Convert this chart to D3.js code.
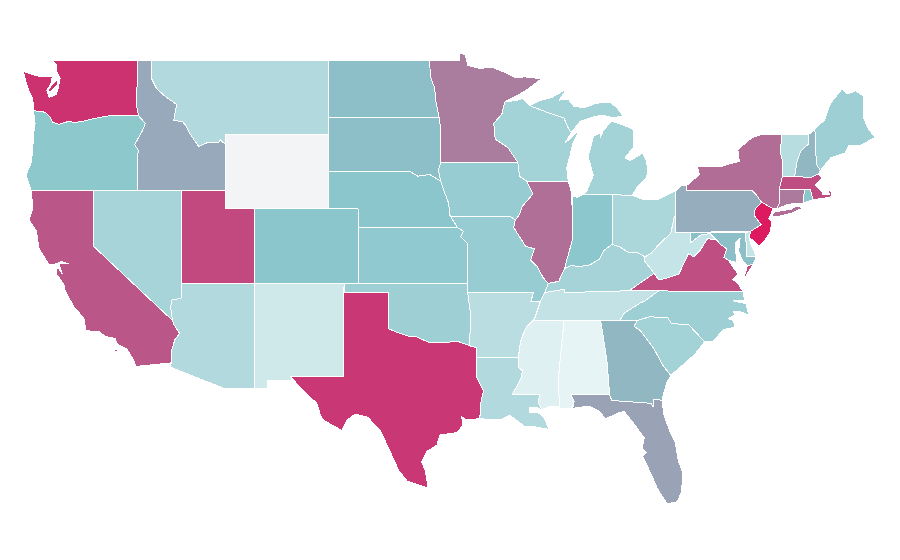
<!DOCTYPE html>
<html>
<head>
<meta charset="utf-8">
<script src="https://cdnjs.cloudflare.com/ajax/libs/d3/7.8.5/d3.min.js"></script>
<style>
  html, body { margin: 0; background: #fff; }
  svg { display: block; }
  path { shape-rendering: crispEdges; stroke: #fff; stroke-width: 1px; stroke-linejoin: round; }
</style>
</head>
<body>
<div id="holder"></div>
<script>
const w = 900;
const h = 560;

const stateNames = ["WA","OR","CA","NV","ID","MT","WY","UT","AZ","NM","CO","ND","SD","NE","KS","OK","TX",
  "MN","IA","MO","AR","LA","WI","IL","MI","IN","OH","KY","TN","MS","AL","GA","FL","SC","NC","VA","WV",
  "PA","NY","VT","NH","ME","MA","CT","RI","NJ","DE","MD"];
const stateValues = [93,48.5,82,36.5,58.4,30.5,null,86,30.5,16,50,52,52,50,47,40.7,91,
  71,44,44,27,30.5,37.7,75,37.7,49,33.8,36.8,22.5,9,5,54.3,60.4,37.7,40.7,84.5,21,
  57.2,75.7,27.5,54.3,40.7,85,72,49,100,21,52];

const colorDomain = [0, 50, 93, 100];
const colorRange = ["#f0f9fa", "#8ac6cc", "#cc3170", "#dd1a5f"];
const noDataColor = "#f3f4f6";

// state outlines, [lon, lat]
const stateShapes = {
  WA: [[[-122.76,49],[-117.03,49],[-117.04,46.42],[-116.92,46],[-118.98,46],[-119.6,45.92],[-120.6,45.73],[-121.2,45.65],[-121.7,45.7],[-122.3,45.55],[-122.75,45.65],[-122.9,45.9],[-123.2,46.15],[-123.5,46.25],[-124.05,46.27],[-124.1,46.9],[-124.35,47.3],[-124.6,47.9],[-124.73,48.38],[-123.7,48.13],[-122.78,48.12],[-122.85,47.8],[-123.15,47.35],[-123,47],[-122.5,47.15],[-122.35,47.6],[-122.25,48],[-122.5,48.4],[-122.5,48.75]],
      [[-122.37,47.97],[-122.44,47.66],[-122.94,47.25],[-123.05,47.4],[-122.82,47.66]]],
  OR: [[[-124.05,46.27],[-123.5,46.25],[-123.2,46.15],[-122.9,45.9],[-122.75,45.65],[-122.3,45.55],[-121.7,45.7],[-121.2,45.65],[-120.6,45.73],[-119.6,45.92],[-118.98,46],[-116.92,46],[-116.47,45.6],[-116.67,45.2],[-116.85,44.95],[-117.2,44.45],[-117.03,44.25],[-116.93,44.1],[-117.03,43.83],[-117.03,42],[-124.21,42],[-124.4,42.4],[-124.55,42.85],[-124.2,43.5],[-124.1,44.3],[-124.05,45],[-123.95,45.6]]],
  CA: [[[-124.2,42],[-120,42],[-120,39],[-114.63,35],[-114.55,34.8],[-114.15,34.3],[-114.45,34],[-114.7,33.4],[-114.72,32.72],[-117.12,32.53],[-117.25,32.85],[-117.7,33.45],[-118.4,33.75],[-118.5,34.03],[-119.2,34.15],[-119.6,34.4],[-120.5,34.45],[-120.65,35.15],[-121.3,35.7],[-121.9,36.6],[-122,36.95],[-122.5,37.5],[-122.5,37.8],[-122.35,37.78],[-122.1,37.5],[-122.3,37.95],[-122.28,38.05],[-121.7,38.05],[-122.2,38.18],[-122.5,38.05],[-123,38],[-123.7,38.9],[-123.85,39.8],[-124.35,40.4],[-124.1,41]],
      [[-119.9,34],[-119.55,34],[-119.55,33.93],[-119.9,33.93]],[[-118.55,33.42],[-118.35,33.42],[-118.35,33.33],[-118.55,33.33]]],
  NV: [[[-120,42],[-114.04,42],[-114.05,36.2],[-114.7,36.1],[-114.75,35.7],[-114.63,35],[-120,39]]],
  ID: [[[-117.03,49],[-116.05,49],[-116.05,48],[-115.7,47.45],[-115.05,47],[-114.35,46.62],[-114.55,45.75],[-113.95,45.7],[-113.75,45.5],[-113.45,45.05],[-113.2,44.75],[-112.85,44.35],[-112.3,44.55],[-111.5,44.55],[-111.4,44.72],[-111.05,44.47],[-111.05,42],[-117.03,42],[-117.03,43.83],[-116.93,44.1],[-117.03,44.25],[-117.2,44.45],[-116.85,44.95],[-116.67,45.2],[-116.47,45.6],[-116.92,46],[-117.04,46.42]]],
  MT: [[[-116.05,49],[-104.05,49],[-104.05,45],[-111.05,45],[-111.05,44.47],[-111.4,44.72],[-111.5,44.55],[-112.3,44.55],[-112.85,44.35],[-113.2,44.75],[-113.45,45.05],[-113.75,45.5],[-113.95,45.7],[-114.55,45.75],[-114.35,46.62],[-115.05,47],[-115.7,47.45],[-116.05,48]]],
  WY: [[[-111.05,45],[-104.05,45],[-104.05,41],[-111.05,41]]],
  UT: [[[-114.04,42],[-111.05,42],[-111.05,41],[-109.05,41],[-109.05,37],[-114.05,37]]],
  AZ: [[[-114.05,37],[-109.05,37],[-109.05,31.33],[-111.07,31.33],[-114.8,32.5],[-114.72,32.72],[-114.7,33.4],[-114.45,34],[-114.15,34.3],[-114.55,34.8],[-114.63,35],[-114.75,35.7],[-114.7,36.1],[-114.05,36.2]]],
  NM: [[[-109.05,37],[-103,37],[-103.05,32],[-106.62,32],[-106.5,31.78],[-108.2,31.78],[-108.2,31.33],[-109.05,31.33]]],
  CO: [[[-109.05,41],[-102.05,41],[-102.04,37],[-109.05,37]]],
  ND: [[[-104.05,49],[-97.23,49],[-97.1,48],[-96.85,47.5],[-96.8,46.9],[-96.56,45.94],[-104.05,45.94]]],
  SD: [[[-104.05,45.94],[-96.56,45.94],[-96.45,45.3],[-96.45,43.5],[-96.6,43.1],[-96.45,42.5],[-97.2,42.85],[-98,42.76],[-98.5,43],[-104.05,43]]],
  NE: [[[-104.05,43],[-98.5,43],[-98,42.76],[-97.2,42.85],[-96.45,42.5],[-96.2,41.9],[-95.9,41.3],[-95.85,40.7],[-95.31,40],[-102.05,40],[-102.05,41],[-104.05,41]]],
  KS: [[[-102.05,40],[-95.31,40],[-94.9,39.8],[-95.1,39.5],[-94.6,39.1],[-94.62,37],[-102.04,37]]],
  OK: [[[-103,37],[-94.62,37],[-94.43,35.4],[-94.48,33.64],[-95.3,33.88],[-96.5,33.8],[-97.2,33.8],[-98.1,34.13],[-98.6,34.15],[-99.2,34.3],[-100,34.56],[-100,36.5],[-103,36.5]]],
  TX: [[[-103.04,36.5],[-100,36.5],[-100,34.56],[-99.2,34.3],[-98.6,34.15],[-98.1,34.13],[-97.2,33.8],[-96.5,33.8],[-95.3,33.88],[-94.48,33.64],[-94.04,33.55],[-94.04,33.02],[-94.04,32],[-93.55,31.2],[-93.75,30.5],[-93.72,30.05],[-93.85,29.72],[-94.7,29.65],[-95.03,29.83],[-94.93,29.38],[-95.35,28.97],[-96.5,28.85],[-96.7,28.3],[-97.4,27.95],[-97.75,27.4],[-97.5,26.96],[-97.3,26],[-98.7,26.35],[-99.3,26.95],[-99.9,28],[-100.55,29.1],[-101.4,29.8],[-102.25,29.97],[-102.8,29.65],[-103.15,29.1],[-103.75,29.34],[-104.4,29.65],[-104.6,29.92],[-104.85,30.55],[-106,31.4],[-106.62,32],[-103.05,32]]],
  MN: [[[-97.23,49],[-95.15,49],[-95.15,49.38],[-94.8,49.3],[-94.6,48.72],[-93.8,48.55],[-92.95,48.62],[-92,48.3],[-91.4,48.05],[-90.75,48.1],[-89.6,48],[-90.8,47.3],[-92.1,46.75],[-92.3,46.1],[-92.85,45.6],[-92.75,44.75],[-91.9,44.3],[-91.22,43.5],[-96.45,43.5],[-96.45,45.3],[-96.56,45.94],[-96.8,46.9],[-96.85,47.5],[-97.1,48]]],
  IA: [[[-96.45,43.5],[-91.22,43.5],[-91.1,42.75],[-90.64,42.5],[-90.2,41.8],[-90.95,41.1],[-91.1,40.7],[-91.4,40.4],[-91.73,40.6],[-95.77,40.58],[-95.85,40.7],[-95.9,41.3],[-96.2,41.9],[-96.45,42.5],[-96.6,43.1]]],
  MO: [[[-95.77,40.58],[-91.73,40.6],[-91.4,40.4],[-91.5,40],[-90.7,39],[-90.1,38.85],[-90.35,38.25],[-89.9,37.9],[-89.5,37.3],[-89.15,37],[-89.4,36.5],[-89.7,36],[-90.35,36],[-90.15,36.5],[-94.62,36.5],[-94.6,39.1],[-95.1,39.5],[-94.9,39.8],[-95.31,40]]],
  AR: [[[-94.62,36.5],[-90.15,36.5],[-90.35,36],[-89.7,36],[-90.1,35.1],[-90.6,34.7],[-90.95,34.1],[-91.1,33.6],[-91.17,33],[-94.04,33.02],[-94.04,33.55],[-94.48,33.64],[-94.43,35.4]]],
  LA: [[[-94.04,33.02],[-91.17,33],[-91.2,32.5],[-90.9,32.3],[-91,31.9],[-91.6,31],[-89.73,31],[-89.85,30.65],[-89.6,30.2],[-90,30.35],[-90.45,30.3],[-90.4,30.05],[-89.85,30.05],[-89.45,29.8],[-89.1,29.15],[-89.5,29.2],[-90.2,29.3],[-90.75,29.3],[-91.75,29.9],[-92.45,29.65],[-93.85,29.72],[-93.72,30.05],[-93.75,30.5],[-93.55,31.2],[-94.04,32]]],
  WI: [[[-92.1,46.75],[-92.3,46.1],[-92.85,45.6],[-92.75,44.75],[-91.9,44.3],[-91.22,43.5],[-91.1,42.75],[-90.64,42.5],[-87.8,42.5],[-87.9,43.2],[-87.7,43.8],[-87.5,44.5],[-87.05,45.25],[-87.6,44.85],[-88,44.55],[-87.6,45.1],[-87.8,45.35],[-88.1,45.9],[-89.1,46.15],[-90.4,46.55],[-90.9,46.95],[-91.2,46.85]]],
  IL: [[[-90.64,42.5],[-87.8,42.5],[-87.55,41.8],[-87.53,39.3],[-87.9,38.25],[-88.05,37.8],[-88.45,37.1],[-89.15,37],[-89.5,37.3],[-89.9,37.9],[-90.35,38.25],[-90.1,38.85],[-90.7,39],[-91.5,40],[-91.4,40.4],[-91.1,40.7],[-90.95,41.1],[-90.2,41.8]]],
  MI: [[[-90.4,46.55],[-89.1,46.15],[-88.1,45.9],[-87.8,45.35],[-87.6,45.1],[-87,45.7],[-86.3,45.9],[-85.5,46.05],[-84.75,45.9],[-84.1,46],[-84.5,46.45],[-85,46.75],[-85.9,46.68],[-86.7,46.45],[-87.4,46.5],[-87.8,46.9],[-88.4,46.85],[-87.9,47.45],[-88.9,47],[-89.8,46.8]],
      [[-86.83,41.76],[-84.82,41.76],[-83.45,41.73],[-83.1,42.2],[-82.5,42.7],[-82.4,43],[-82.5,43.6],[-82.75,44],[-83.6,43.6],[-83.95,43.75],[-83.35,44.35],[-83.35,45.25],[-83.9,45.45],[-84.85,45.72],[-85.4,45.25],[-85.65,44.8],[-85.6,45.1],[-86.1,44.9],[-86.45,43.8],[-86.1,42.8],[-86.55,41.95]],
      [[-88.9,47.95],[-88.45,48.18],[-88.6,48.1]]],
  IN: [[[-87.53,41.72],[-87.2,41.62],[-86.83,41.76],[-84.82,41.76],[-84.82,39.1],[-85.4,38.75],[-85.7,38.3],[-86.3,38],[-87,37.9],[-87.6,37.95],[-88.05,37.8],[-87.9,38.25],[-87.53,39.3]]],
  OH: [[[-84.82,41.76],[-83.45,41.73],[-82.7,41.5],[-81.7,41.5],[-80.52,41.98],[-80.52,40.64],[-80.6,40.6],[-80.85,39.7],[-81.75,39],[-82.2,38.6],[-82.6,38.42],[-83.1,38.65],[-83.7,38.65],[-84.3,38.95],[-84.82,39.1]]],
  KY: [[[-89.4,36.5],[-88.05,36.68],[-88.07,36.5],[-83.68,36.6],[-81.97,37.54],[-82.6,38.17],[-82.6,38.42],[-83.1,38.65],[-83.7,38.65],[-84.3,38.95],[-84.82,39.1],[-85.4,38.75],[-85.7,38.3],[-86.3,38],[-87,37.9],[-87.6,37.95],[-88.05,37.8],[-88.45,37.1],[-89.15,37]]],
  TN: [[[-90.1,35],[-88.2,35],[-85.6,35],[-84.3,35],[-84,35.4],[-82.9,35.95],[-82.6,36.05],[-81.68,36.59],[-83.68,36.6],[-88.07,36.5],[-88.05,36.68],[-89.4,36.5],[-89.7,36]]],
  MS: [[[-90.1,35],[-88.2,35],[-88.1,34.9],[-88.47,31.9],[-88.4,30.37],[-89.1,30.37],[-89.6,30.2],[-89.85,30.65],[-89.73,31],[-91.6,31],[-91,31.9],[-90.9,32.3],[-91.2,32.5],[-91.17,33],[-91.1,33.6],[-90.95,34.1],[-90.6,34.7]]],
  AL: [[[-88.2,35],[-85.6,35],[-85.18,32.87],[-85.05,31.55],[-85,31],[-87.6,31],[-87.4,30.65],[-87.55,30.3],[-88.4,30.25],[-88.4,30.37],[-88.47,31.9],[-88.1,34.9]]],
  GA: [[[-85.6,35],[-83.1,35],[-83.35,34.7],[-82.9,34.45],[-82,33.5],[-81.4,32.6],[-80.85,32.05],[-81.15,31.6],[-81.45,30.72],[-82.05,30.75],[-82.05,30.35],[-82.2,30.55],[-84.85,30.7],[-85,31],[-85.05,31.55],[-85.18,32.87]]],
  FL: [[[-87.6,31],[-85,31],[-84.85,30.7],[-82.2,30.55],[-82.05,30.35],[-82.05,30.75],[-81.45,30.72],[-81.3,29.9],[-80.9,29],[-80.55,28.45],[-80.35,27.5],[-80.03,26.8],[-80.12,25.8],[-80.4,25.25],[-81.1,25.15],[-81.75,25.95],[-82.05,26.5],[-82.45,27.2],[-82.75,27.7],[-82.5,27.9],[-82.8,28.1],[-82.65,28.7],[-83.4,29.5],[-84,30.1],[-84.35,30.05],[-85.3,29.7],[-85.65,30.1],[-86.4,30.4],[-87.5,30.28],[-87.4,30.65]]],
  SC: [[[-83.35,34.7],[-83.1,35],[-82.3,35.2],[-81.05,35.15],[-80.8,34.82],[-79.67,34.8],[-78.55,33.86],[-79.2,33.2],[-79.9,32.7],[-80.85,32.05],[-81.4,32.6],[-82,33.5],[-82.9,34.45]]],
  NC: [[[-84.3,35],[-83.1,35],[-82.3,35.2],[-81.05,35.15],[-80.8,34.82],[-79.67,34.8],[-78.55,33.86],[-77.95,33.9],[-77.3,34.5],[-76.5,34.65],[-76.6,35],[-76.95,35.1],[-76.5,35.3],[-76.6,35.5],[-76,35.45],[-75.55,35.25],[-75.75,35.9],[-76.6,36.05],[-75.85,36.1],[-75.95,36.55],[-81.68,36.59],[-82.6,36.05],[-82.9,35.95],[-84,35.4]]],
  VA: [[[-83.68,36.6],[-81.68,36.59],[-75.95,36.55],[-76.3,37],[-76.65,37.2],[-76.3,37.5],[-76.95,38.25],[-77.25,38.4],[-77.05,38.85],[-77.5,39.1],[-77.72,39.32],[-78.35,39.4],[-78.87,38.76],[-79.3,38.42],[-79.65,38.6],[-80.3,37.5],[-81.2,37.25],[-81.68,37.2],[-81.97,37.54]],
      [[-75.95,37.15],[-75.6,37.6],[-75.25,38.03],[-75.65,37.95]]],
  WV: [[[-80.52,40.64],[-80.52,39.72],[-79.48,39.72],[-79.48,39.2],[-78.8,39.6],[-78.2,39.68],[-77.72,39.32],[-78.35,39.4],[-78.87,38.76],[-79.3,38.42],[-79.65,38.6],[-80.3,37.5],[-81.2,37.25],[-81.68,37.2],[-81.97,37.54],[-82.6,38.17],[-82.6,38.42],[-82.2,38.6],[-81.75,39],[-80.85,39.7],[-80.6,40.6]]],
  PA: [[[-80.52,41.98],[-80.1,42.27],[-79.76,42.27],[-79.76,42],[-75.35,42],[-75.05,41.75],[-74.7,41.36],[-75.13,40.98],[-75.2,40.65],[-74.72,40.15],[-75.42,39.8],[-80.52,39.72]]],
  NY: [[[-79.76,42],[-79.76,42.27],[-78.9,42.85],[-79.05,43.27],[-77.5,43.27],[-76.5,43.5],[-76.2,43.55],[-76.3,44.2],[-75.3,44.85],[-74.7,45],[-73.35,45],[-73.4,44],[-73.25,43.5],[-73.28,42.75],[-73.5,42.05],[-73.5,41.3],[-73.65,41],[-73.9,41],[-74.7,41.36],[-75.05,41.75],[-75.35,42]],
      [[-74.05,40.6],[-73.75,40.85],[-72.7,40.98],[-72.3,41.15],[-71.9,41.05],[-72.6,40.78],[-73.6,40.58]]],
  VT: [[[-73.35,45],[-71.5,45],[-71.5,44.5],[-72.05,44.1],[-72.3,43.5],[-72.46,42.73],[-73.28,42.75],[-73.25,43.5],[-73.4,44]]],
  NH: [[[-71.5,45],[-71.08,45.3],[-70.98,43.4],[-70.7,43.07],[-70.85,42.88],[-71.3,42.7],[-72.46,42.73],[-72.3,43.5],[-72.05,44.1],[-71.5,44.5]]],
  ME: [[[-71.08,45.3],[-70.4,45.8],[-70.25,46.2],[-70,46.7],[-69.22,47.46],[-68.9,47.18],[-68.3,47.35],[-67.8,47.07],[-67.78,45.9],[-67.45,45.3],[-67,44.85],[-68,44.4],[-68.8,44.4],[-69.05,44],[-70,43.75],[-70.7,43.07],[-70.98,43.4]]],
  MA: [[[-73.28,42.75],[-71.3,42.7],[-70.85,42.88],[-70.6,42.65],[-71.05,42.3],[-70.6,41.95],[-70.55,41.78],[-70.1,41.78],[-70.2,42.07],[-69.95,41.9],[-69.98,41.65],[-70.65,41.55],[-71.2,41.5],[-71.38,42.02],[-73.5,42.05]],
      [[-70.7,41.45],[-70.55,41.45],[-70.55,41.38],[-70.7,41.38]]],
  CT: [[[-73.5,42.05],[-71.8,42.02],[-71.85,41.32],[-72.9,41.25],[-73.65,41],[-73.5,41.3]]],
  RI: [[[-71.8,42.02],[-71.38,42.02],[-71.2,41.5],[-71.85,41.32]]],
  NJ: [[[-74.7,41.36],[-73.9,41],[-74.2,40.5],[-74,40.3],[-74.1,39.75],[-74.45,39.35],[-74.85,39],[-75.15,39.2],[-75.55,39.5],[-75.42,39.8],[-74.72,40.15],[-75.2,40.65],[-75.13,40.98]]],
  DE: [[[-75.78,39.72],[-75.42,39.8],[-75.55,39.5],[-75.4,39.05],[-75.05,38.45],[-75.7,38.46]]],
  MD: [[[-79.48,39.72],[-75.78,39.72],[-75.7,38.46],[-75.05,38.45],[-75.25,38.03],[-75.65,37.95],[-75.95,38.2],[-76.25,38.7],[-76.15,39.4],[-76.45,39.2],[-76.45,38.7],[-76.35,38.1],[-76.95,38.25],[-77.25,38.4],[-77.05,38.85],[-77.5,39.1],[-77.72,39.32],[-78.2,39.68],[-78.8,39.6],[-79.48,39.2]]]
};

const value = Object.fromEntries(stateNames.map((s, i) => [s, stateValues[i]]));

// the map is a plain lon/lat stretch, no real projection
const xScale = d3.scaleLinear().domain([-120, -100]).range([93.3, 388.3]);
const yScale = d3.scaleLinear().domain([42, 37]).range([190.3, 283.3]);

const projection = d3.geoTransform({
  point: function (lon, lat) { this.stream.point(xScale(lon), yScale(lat)); }
});
const path = d3.geoPath().projection(projection);

const colorScale = d3.scaleLinear().domain(colorDomain).range(colorRange);

const svg = d3.select("#holder").append("svg")
  .attr("width", w)
  .attr("height", h);

// geo rings have to repeat their first point
const closeRing = r => [...r, r[0]];

svg.append("g")
  .selectAll("path")
  .data(stateNames)
  .enter()
  .append("path")
    .attr("d", d => path({type: "MultiPolygon", coordinates: stateShapes[d].map(r => [closeRing(r)])}))
    .attr("fill", d => value[d] === null ? noDataColor : colorScale(value[d]))
    .append("title")
    .text(d => `${d}: ${value[d] === null ? "unknown" : value[d]}`);
</script>
</body>
</html>
